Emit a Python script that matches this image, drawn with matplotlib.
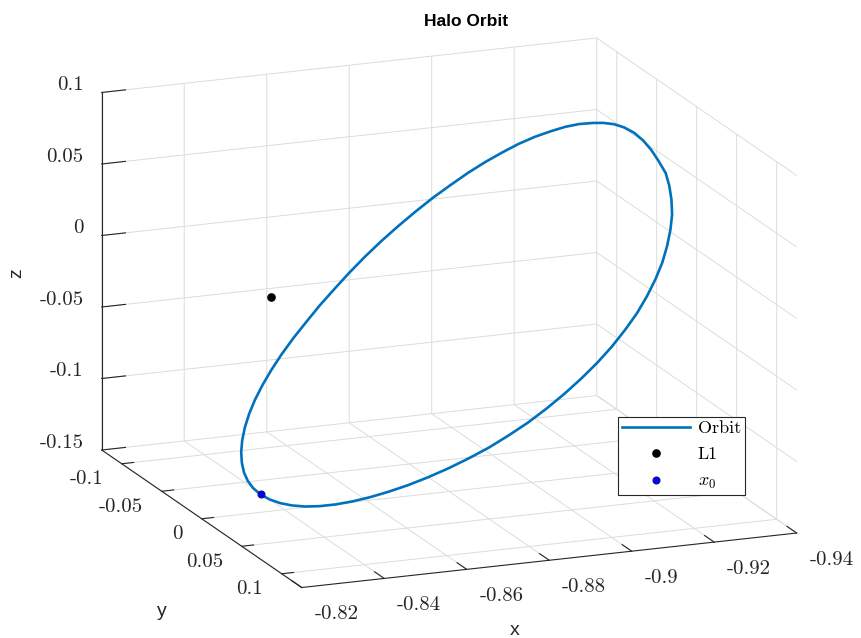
import numpy as np
import matplotlib.pyplot as plt

plt.rcParams['axes.unicode_minus'] = False
plt.rcParams['mathtext.fontset'] = 'cm'
plt.rcParams['grid.color'] = '#dcdcdc'
plt.rcParams['grid.linewidth'] = 0.7
plt.rcParams['xtick.color'] = '#262626'
plt.rcParams['ytick.color'] = '#262626'

# halo orbit about L1, one period (rotating frame, nondimensional)
orbit_x = [-0.83426, -0.83446, -0.83507, -0.83605, -0.83742, -0.83909,
           -0.84112, -0.84346, -0.84613, -0.84909, -0.85235, -0.85584,
           -0.85954, -0.86342, -0.86745, -0.87147, -0.87560, -0.87967,
           -0.88374, -0.88778, -0.89178, -0.89565, -0.89935, -0.90294,
           -0.90625, -0.90937, -0.91227, -0.91484, -0.91720, -0.91933,
           -0.92102, -0.92246, -0.92365, -0.92405, -0.92445, -0.92472,
           -0.92483, -0.92472, -0.92445, -0.92405, -0.92365, -0.92246,
           -0.92102, -0.91933, -0.91720, -0.91484, -0.91227, -0.90937,
           -0.90625, -0.90294, -0.89935, -0.89565, -0.89178, -0.88778,
           -0.88374, -0.87967, -0.87560, -0.87147, -0.86745, -0.86342,
           -0.85954, -0.85584, -0.85235, -0.84909, -0.84613, -0.84346,
           -0.84112, -0.83909, -0.83742, -0.83605, -0.83507, -0.83446]
orbit_y = [0.0, 0.01006, 0.02006, 0.02994, 0.03965, 0.04912,
           0.05830, 0.06713, 0.07556, 0.08350, 0.09092, 0.09774,
           0.10393, 0.10941, 0.11414, 0.11808, 0.12116, 0.12336,
           0.12464, 0.12497, 0.12433, 0.12271, 0.12010, 0.11651,
           0.11196, 0.10645, 0.10004, 0.09277, 0.08468, 0.07585,
           0.06634, 0.05623, 0.04560, 0.03458, 0.02323, 0.01167,
           0.0, -0.01167, -0.02323, -0.03458, -0.04560, -0.05623,
           -0.06634, -0.07585, -0.08468, -0.09277, -0.10004, -0.10645,
           -0.11196, -0.11651, -0.12010, -0.12271, -0.12433, -0.12497,
           -0.12464, -0.12336, -0.12116, -0.11808, -0.11414, -0.10941,
           -0.10393, -0.09774, -0.09092, -0.08350, -0.07556, -0.06713,
           -0.05830, -0.04912, -0.03965, -0.02994, -0.02006, -0.01006]
orbit_z = [-0.13752, -0.13716, -0.13609, -0.13426, -0.13173, -0.12835,
           -0.12428, -0.11954, -0.11417, -0.10824, -0.10183, -0.09487,
           -0.08747, -0.07962, -0.07146, -0.06272, -0.05379, -0.04445,
           -0.03496, -0.02542, -0.01590, -0.00639, 0.00308, 0.01224,
           0.02138, 0.03009, 0.03837, 0.04635, 0.05364, 0.06024,
           0.06647, 0.07185, 0.07630, 0.08045, 0.08380, 0.08585,
           0.08658, 0.08585, 0.08380, 0.08045, 0.07630, 0.07185,
           0.06647, 0.06024, 0.05364, 0.04635, 0.03837, 0.03009,
           0.02138, 0.01224, 0.00308, -0.00639, -0.01590, -0.02542,
           -0.03496, -0.04445, -0.05379, -0.06272, -0.07146, -0.07962,
           -0.08747, -0.09487, -0.10183, -0.10824, -0.11417, -0.11954,
           -0.12428, -0.12835, -0.13173, -0.13426, -0.13609, -0.13716]

L1 = [-0.8369, 0.0, 0.0]

x_ticks = [-0.94, -0.92, -0.9, -0.88, -0.86, -0.84, -0.82]
x_tick_labels = ['-0.94', '-0.92', '-0.9', '-0.88', '-0.86', '-0.84', '-0.82']
y_ticks = [-0.1, -0.05, 0.0, 0.05, 0.1]
y_tick_labels = ['-0.1', '-0.05', '0', '0.05', '0.1']
z_ticks = [-0.15, -0.1, -0.05, 0.0, 0.05, 0.1]
z_tick_labels = ['-0.15', '-0.1', '-0.05', '0', '0.05', '0.1']

# close the loop
ox = np.append(orbit_x, orbit_x[0])
oy = np.append(orbit_y, orbit_y[0])
oz = np.append(orbit_z, orbit_z[0])

fig = plt.figure(figsize=(8.62, 6.38), dpi=100, facecolor='white')
ax = fig.add_axes([0.16369, 0.02688, 0.69606, 0.94044], projection='3d',
                  computed_zorder=False)
ax.set_proj_type('ortho')
ax.view_init(elev=15.97, azim=68.19)
ax.set_box_aspect((533.1, 538.3, 371.9), zoom=1.3655)
ax.set_xlim(-0.94, -0.82)
ax.set_ylim(-0.125, 0.125)
ax.set_zlim(-0.15, 0.1)

h_orbit, = ax.plot(ox, oy, oz, color='#0072BD', lw=1.9)
h_l1, = ax.plot([L1[0]], [L1[1]], [L1[2]], 'o', color='black', ms=5.2)
h_x0, = ax.plot([orbit_x[0]], [orbit_y[0]], [orbit_z[0]], 'o',
                mfc='blue', mec='#10107a', mew=0.8, ms=5.0)

tick_font = dict(fontfamily='cmr10', fontsize=15, color='#262626')
ax.set_xticks(x_ticks)
ax.set_xticklabels(x_tick_labels, ha='left', va='baseline', **tick_font)
ax.set_yticks(y_ticks)
ax.set_yticklabels(y_tick_labels, ha='right', va='center', **tick_font)
ax.set_zticks(z_ticks)
ax.set_zticklabels(z_tick_labels, ha='right', va='baseline', **tick_font)
ax.xaxis.set_ticks_position('lower')
ax.yaxis.set_ticks_position('lower')
ax.xaxis.set_tick_params(pad=6.4)
ax.yaxis.set_tick_params(pad=0.5)
ax.zaxis.set_tick_params(pad=-2.1)

for axis, out in ((ax.xaxis, 0.6), (ax.yaxis, 0.3), (ax.zaxis, 0.6)):
    axis.set_pane_color((1, 1, 1, 1))
    axis.line.set_color('#262626')
    axis.line.set_linewidth(0.8)
    axis._axinfo['tick']['inward_factor'] = 0.0
    axis._axinfo['tick']['outward_factor'] = out
    axis._axinfo['tick']['linewidth'] = {True: 0.8, False: 0.5}
ax.grid(True)

label_font = dict(family='Liberation Sans', fontsize=14, color='#262626')
fig.text(515 / 862, 1 - 635 / 638, 'x', ha='center', va='baseline', **label_font)
fig.text(162 / 862, 1 - 616 / 638, 'y', ha='center', va='baseline', **label_font)
fig.text(17 / 862, 1 - 273 / 638, 'z', ha='center', va='center', rotation=90,
         **label_font)
fig.text(466 / 862, 1 - 22 / 638, 'Halo Orbit', ha='center', va='center',
         family='Liberation Sans', fontweight='bold', fontsize=12.5)

leg = fig.legend([h_orbit, h_l1, h_x0], ['Orbit', 'L1', '$x_0$'],
                 loc='upper left', bbox_to_anchor=(618.3 / 862, 1 - 416.7 / 638),
                 borderaxespad=0, fancybox=False, framealpha=1,
                 edgecolor='#262626', prop={'family': 'cmr10', 'size': 13},
                 handlelength=3.75, handletextpad=0.45, labelspacing=0.6,
                 borderpad=0.2, numpoints=1)
leg.get_frame().set_linewidth(0.8)

fig.savefig('out.png', dpi=100, facecolor='white')
